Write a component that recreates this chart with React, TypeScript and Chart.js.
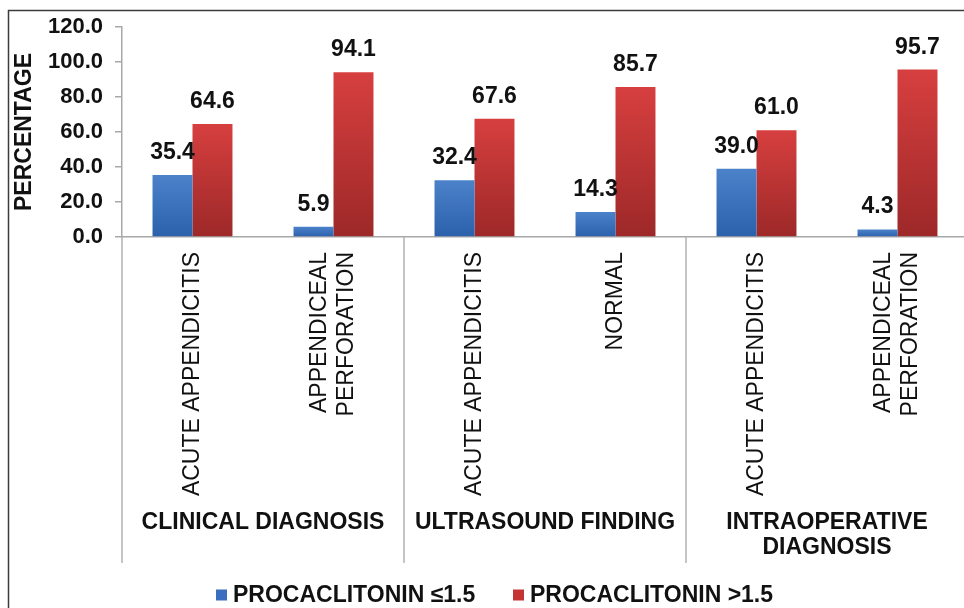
import React, { useEffect, useRef } from "react";
import { Chart, registerables } from "chart.js";

Chart.register(...registerables);

const categoryLabels: string[][] = [
  ["ACUTE APPENDICITIS"],
  ["APPENDICEAL", "PERFORATION"],
  ["ACUTE APPENDICITIS"],
  ["NORMAL"],
  ["ACUTE APPENDICITIS"],
  ["APPENDICEAL", "PERFORATION"],
];
const groupLabels: string[][] = [
  ["CLINICAL DIAGNOSIS"],
  ["ULTRASOUND FINDING"],
  ["INTRAOPERATIVE", "DIAGNOSIS"],
];
const groupSizes = [2, 2, 2];
const seriesNames = ["PROCACLITONIN \u22641.5", "PROCACLITONIN >1.5"];
const lowValues = [35.4, 5.9, 32.4, 14.3, 39.0, 4.3];
const highValues = [64.6, 94.1, 67.6, 85.7, 61.0, 95.7];
const yMin = 0;
const yMax = 120;
const yStep = 20;
const yTitle = "PERCENTAGE";

const FONT = '"Liberation Sans", Arial, Helvetica, sans-serif';
const legendColors = ["#3a6ebf", "#c53434"];
const gradStops = [
  ["#4c82ca", "#2b60ab"],
  ["#d73f3f", "#9d2828"],
];

function barGradient(ctx: any, di: number) {
  const chart = ctx.chart;
  const area = chart.chartArea;
  const ys = chart.scales && chart.scales.y;
  if (!area || !ys || ctx.raw === undefined) return gradStops[di][0];
  const top = ys.getPixelForValue(ctx.raw);
  const bottom = ys.getPixelForValue(0);
  const g = chart.ctx.createLinearGradient(0, top, 0, Math.max(bottom, top + 1));
  g.addColorStop(0, gradStops[di][0]);
  g.addColorStop(1, gradStops[di][1]);
  return g;
}

const decorPlugin = {
  id: "decor",
  afterDraw(chart: any) {
    const ctx = chart.ctx as CanvasRenderingContext2D;
    const xs = chart.scales.x;
    const ys = chart.scales.y;
    const baseY = ys.getPixelForValue(0);
    const half = (xs.getPixelForValue(1) - xs.getPixelForValue(0)) / 2;

    ctx.save();
    // data labels
    ctx.fillStyle = "#111";
    ctx.font = `bold 23px ${FONT}`;
    ctx.textAlign = "center";
    ctx.textBaseline = "alphabetic";
    chart.data.datasets.forEach((ds: any, i: number) => {
      const meta = chart.getDatasetMeta(i);
      meta.data.forEach((bar: any, j: number) => {
        ctx.fillText(Number(ds.data[j]).toFixed(1), bar.x, bar.y - 16);
      });
    });

    // category labels (rotated)
    ctx.font = `23px ${FONT}`;
    categoryLabels.forEach((lines, j) => {
      const x = xs.getPixelForValue(j);
      ctx.save();
      ctx.translate(x, baseY + 15);
      ctx.rotate(-Math.PI / 2);
      ctx.textAlign = "right";
      ctx.textBaseline = "middle";
      lines.forEach((line, k) => {
        ctx.fillText(line, 0, (k - (lines.length - 1) / 2) * 27);
      });
      ctx.restore();
    });

    // group separators & labels
    ctx.strokeStyle = "#b2b2b2";
    ctx.lineWidth = 1.5;
    let start = 0;
    const bounds: number[] = [];
    groupSizes.forEach((n) => {
      bounds.push(xs.getPixelForValue(start) - half);
      start += n;
    });
    bounds.push(xs.getPixelForValue(start - 1) + half);
    bounds.forEach((bx) => {
      ctx.beginPath();
      ctx.moveTo(bx, baseY);
      ctx.lineTo(bx, baseY + 326);
      ctx.stroke();
    });
    ctx.font = `bold 23px ${FONT}`;
    ctx.textAlign = "center";
    ctx.textBaseline = "middle";
    start = 0;
    groupLabels.forEach((lines, g) => {
      const n = groupSizes[g];
      const cx = (xs.getPixelForValue(start) + xs.getPixelForValue(start + n - 1)) / 2;
      lines.forEach((line, k) => {
        ctx.fillText(line, cx, baseY + 286 + k * 25);
      });
      start += n;
    });

    // legend
    const legendX = [216, 513];
    seriesNames.forEach((name, i) => {
      ctx.fillStyle = legendColors[i];
      ctx.fillRect(legendX[i], 589.5, 11, 11);
      ctx.fillStyle = "#111";
      ctx.textAlign = "left";
      ctx.textBaseline = "middle";
      ctx.fillText(name, legendX[i] + 17, 595.5);
    });

    // outer frame
    ctx.strokeStyle = "#3c3c3c";
    ctx.lineWidth = 1.5;
    ctx.beginPath();
    ctx.moveTo(8.5, 608);
    ctx.lineTo(8.5, 10.5);
    ctx.lineTo(chart.width, 10.5);
    ctx.stroke();
    ctx.restore();
  },
};

export default function App() {
  const ref = useRef<HTMLCanvasElement | null>(null);
  useEffect(() => {
    if (!ref.current) return;
    Chart.defaults.font.family = FONT;
    const chart = new Chart(ref.current, {
      type: "bar",
      data: {
        labels: categoryLabels.map((l) => l.join(" ")),
        datasets: [
          {
            label: seriesNames[0],
            data: lowValues,
            backgroundColor: (c: any) => barGradient(c, 0),
            categoryPercentage: 0.567,
            barPercentage: 1.0,
          },
          {
            label: seriesNames[1],
            data: highValues,
            backgroundColor: (c: any) => barGradient(c, 1),
            categoryPercentage: 0.567,
            barPercentage: 1.0,
          },
        ],
      },
      options: {
        responsive: false,
        animation: false,
        devicePixelRatio: 1,
        layout: { padding: { left: 0, right: 4, top: 27, bottom: 371 } },
        plugins: {
          legend: { display: false },
          tooltip: { enabled: false },
        },
        scales: {
          x: {
            type: "category",
            offset: true,
            grid: { display: false },
            ticks: { display: false },
            border: { display: true, color: "#a8a8a8", width: 1.5 },
            afterFit: (s: any) => {
              s.height = 0;
            },
          },
          y: {
            min: yMin,
            max: yMax,
            ticks: {
              stepSize: yStep,
              padding: 12,
              color: "#111",
              font: { family: FONT, size: 22, weight: "bold" },
              callback: (v: any) => Number(v).toFixed(1),
            },
            grid: {
              drawOnChartArea: false,
              drawTicks: true,
              tickLength: 7,
              color: "#a8a8a8",
              lineWidth: 1.5,
            },
            border: { display: true, color: "#a8a8a8", width: 1.5 },
            title: {
              display: true,
              text: yTitle,
              color: "#111",
              font: { family: FONT, size: 23, weight: "bold" },
              padding: { top: 11, bottom: 0 },
            },
            afterFit: (s: any) => {
              s.width = 122;
            },
          },
        },
      },
      plugins: [decorPlugin],
    } as any);
    return () => chart.destroy();
  }, []);
  return (
    <div
      style={{
        position: "fixed",
        left: 0,
        top: 0,
        width: 964,
        height: 608,
        overflow: "hidden",
        background: "#fff",
      }}
    >
      <canvas ref={ref} width={972} height={608} style={{ display: "block", width: 972, height: 608 }} />
    </div>
  );
}
